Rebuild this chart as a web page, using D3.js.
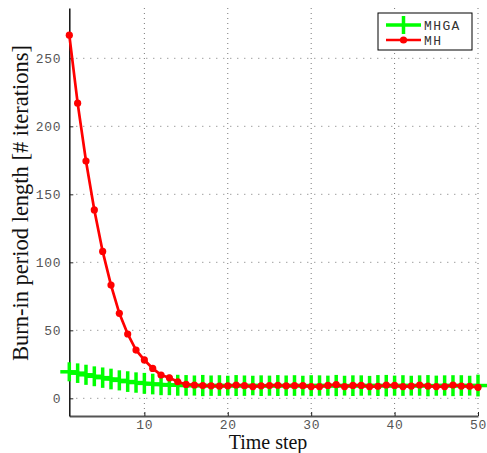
<!DOCTYPE html>
<html>
<head>
<meta charset="utf-8">
<script src="https://cdn.jsdelivr.net/npm/d3@7"></script>
<style>
    body { margin: 0; background: #fff; }
    .tick-label { font-family: 'Liberation Mono', monospace; font-size: 13px; fill: #555; letter-spacing: 0.7px; }
    .axis-title { font-family: 'Liberation Serif', serif; font-size: 21px; fill: #111; }
    .legend-label { font-family: 'Liberation Mono', monospace; font-size: 13px; fill: #333; letter-spacing: 1.4px; }
</style>
</head>
<body>
<div id="chart"></div>
<script>
// time steps 1..50
const steps = d3.range(1, 51);

// MH burn-in length (red)
const mhValues = [267, 217, 174.5, 138.5, 108, 83.3, 62.5, 47.3, 35.5, 28.2,
    22, 17.1, 15.1, 12.2, 10.2, 9.8, 9.4, 9.2, 9.0, 9.2,
    9.8, 9.3, 8.6, 9.2, 9.4, 9.6, 9.2, 9.3, 9.3, 8.6,
    8.6, 9.5, 10.0, 8.6, 9.5, 9.5, 8.6, 8.8, 9.8, 9.5,
    8.6, 9.0, 9.8, 9.0, 8.6, 8.6, 9.8, 9.0, 8.8, 8.1];

// MHGA burn-in length (green) and error half-widths
const mhgaValues = [19.5, 18.5, 17.3, 16.2, 15.2, 14.2, 13.2, 12.3, 11.6, 11.0,
    10.5, 10.1, 9.8, 9.6, 9.5, 9.4, 9.4, 9.3, 9.4, 9.3,
    9.4, 9.3, 9.4, 9.3, 9.3, 9.4, 9.3, 9.4, 9.3, 9.3,
    9.4, 9.3, 9.4, 9.3, 9.3, 9.4, 9.3, 9.4, 9.3, 9.3,
    9.4, 9.3, 9.4, 9.3, 9.3, 9.4, 9.3, 9.4, 9.3, 9.4];
const mhgaErr = [7.0, 7.2, 7.4, 7.3, 7.5, 7.6, 7.4, 7.6, 7.5, 7.7,
    7.6, 7.8, 7.5, 7.7, 7.6, 7.4, 7.8, 7.5, 7.6, 7.3,
    7.7, 7.5, 7.2, 7.6, 7.4, 7.7, 7.5, 7.6, 7.3, 7.7,
    7.5, 7.4, 7.8, 7.3, 7.6, 7.5, 7.2, 7.7, 7.9, 7.4,
    7.6, 7.3, 7.5, 7.8, 7.4, 7.5, 7.7, 7.6, 7.3, 8.0];

const xTicks = [10, 20, 30, 40, 50];
const yTicks = [0, 50, 100, 150, 200, 250];
const legendNames = ['MHGA', 'MH'];

const WIDTH = 487, HEIGHT = 453;
const margin = { top: 8, left: 69, right: 9, bottom: 37 };
const GREEN = '#00ff00', RED = '#ff0000';

const svg = d3.select('#chart').append('svg')
    .attr('width', WIDTH)
    .attr('height', HEIGHT);

const xScale = d3.scaleLinear().domain([1, 50]).range([margin.left + 0.3, WIDTH - margin.right]);
const yScale = d3.scaleLinear().domain([-13, 287]).range([HEIGHT - margin.bottom, margin.top]);

const x0 = xScale.range()[0], x1 = xScale.range()[1];
const yb = yScale.range()[0], yt = yScale.range()[1];

/** dotted grid */
svg.append('g').selectAll('line')
    .data(xTicks).enter().append('line')
    .attr('x1', d => xScale(d)).attr('x2', d => xScale(d))
    .attr('y1', yt).attr('y2', yb)
    .style('stroke', '#777').style('stroke-width', 1).style('stroke-dasharray', '1,4');
svg.append('g').selectAll('line')
    .data(yTicks).enter().append('line')
    .attr('x1', x0).attr('x2', x1)
    .attr('y1', d => yScale(d)).attr('y2', d => yScale(d))
    .style('stroke', '#777').style('stroke-width', 1).style('stroke-dasharray', '1,6');

/** axes */
const xAxis = svg.append('g')
    .attr('transform', `translate(0, ${yb})`)
    .call(d3.axisBottom(xScale).tickValues(xTicks).tickSizeInner(-4).tickSizeOuter(0).tickPadding(4));
xAxis.select('.domain').style('stroke', '#555').style('stroke-width', 2);
xAxis.selectAll('.tick line').style('stroke', '#222');
xAxis.selectAll('.tick text').attr('class', 'tick-label').attr('fill', null);

const yAxis = svg.append('g')
    .attr('transform', `translate(${x0}, 0)`)
    .call(d3.axisLeft(yScale).tickValues(yTicks).tickSizeInner(-4).tickSizeOuter(0).tickPadding(8));
yAxis.select('.domain').style('stroke', '#111').style('stroke-width', 1.5);
yAxis.selectAll('.tick line').style('stroke', '#222');
yAxis.selectAll('.tick text').attr('class', 'tick-label').attr('fill', null);

/** MHGA errorbar series */
const greenData = steps.map((s, i) => ({ s, v: mhgaValues[i], e: mhgaErr[i] }));
const lineGen = d3.line().x(d => xScale(d.s)).y(d => yScale(d.v));

svg.append('path')
    .datum(greenData)
    .attr('d', lineGen)
    .style('fill', 'none').style('stroke', GREEN).style('stroke-width', 3.5);

const gbars = svg.append('g');
gbars.selectAll('line.vbar')
    .data(greenData).enter().append('line')
    .attr('class', 'vbar')
    .attr('x1', d => xScale(d.s)).attr('x2', d => xScale(d.s))
    .attr('y1', d => yScale(d.v - d.e)).attr('y2', d => yScale(d.v + d.e))
    .style('stroke', GREEN).style('stroke-width', 3.5);
gbars.selectAll('line.hbar')
    .data(greenData).enter().append('line')
    .attr('class', 'hbar')
    .attr('x1', d => xScale(d.s) - 9).attr('x2', d => xScale(d.s) + 9)
    .attr('y1', d => yScale(d.v)).attr('y2', d => yScale(d.v))
    .style('stroke', GREEN).style('stroke-width', 3.5);

/** MH series */
const redData = steps.map((s, i) => ({ s, v: mhValues[i] }));
svg.append('path')
    .datum(redData)
    .attr('d', lineGen)
    .style('fill', 'none').style('stroke', RED).style('stroke-width', 2.7);
svg.append('g').selectAll('circle')
    .data(redData).enter().append('circle')
    .attr('cx', d => xScale(d.s)).attr('cy', d => yScale(d.v))
    .attr('r', 3.6)
    .style('fill', RED);

/** axis titles */
svg.append('text')
    .attr('class', 'axis-title')
    .style('font-size', '20px')
    .attr('x', 268).attr('y', 449)
    .attr('text-anchor', 'middle')
    .text('Time step');

svg.append('text')
    .attr('class', 'axis-title')
    .style('font-size', '22.5px')
    .attr('transform', 'translate(28, 203) rotate(-90)')
    .attr('text-anchor', 'middle')
    .text('Burn-in period length [# iterations]');

/** legend */
const legend = svg.append('g').attr('transform', 'translate(378, 13)');
legend.append('rect')
    .attr('width', 94).attr('height', 37)
    .style('fill', '#fff').style('stroke', '#000').style('stroke-width', 1);

const row1 = legend.append('g').attr('transform', 'translate(0, 12)');
row1.append('line').attr('x1', 8).attr('x2', 43).attr('y1', 0).attr('y2', 0)
    .style('stroke', GREEN).style('stroke-width', 3.5);
row1.append('line').attr('x1', 25.5).attr('x2', 25.5).attr('y1', -9).attr('y2', 9)
    .style('stroke', GREEN).style('stroke-width', 3.5);
row1.append('text').attr('class', 'legend-label').attr('x', 46).attr('y', 4.5).text(legendNames[0]);

const row2 = legend.append('g').attr('transform', 'translate(0, 27)');
row2.append('line').attr('x1', 8).attr('x2', 43).attr('y1', 0).attr('y2', 0)
    .style('stroke', RED).style('stroke-width', 2.7);
row2.append('circle').attr('cx', 25.5).attr('cy', 0).attr('r', 3.6).style('fill', RED);
row2.append('text').attr('class', 'legend-label').attr('x', 46).attr('y', 4.5).text(legendNames[1]);
</script>
</body>
</html>
